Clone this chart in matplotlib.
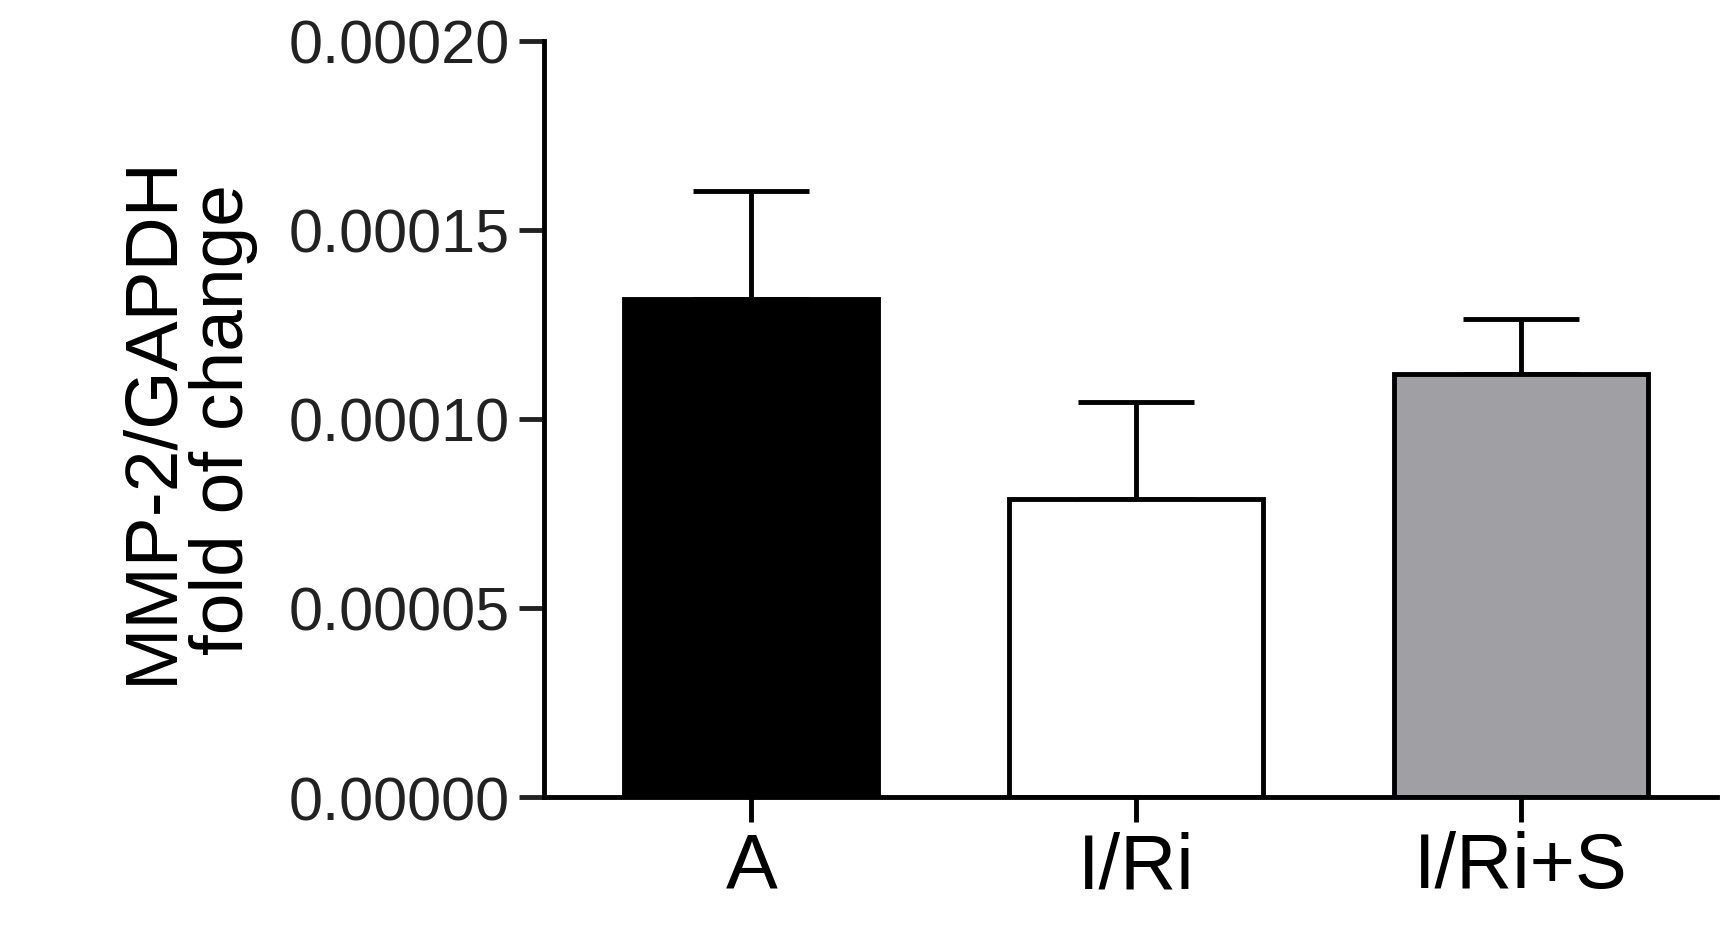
import numpy as np
import matplotlib.pyplot as plt

plt.rcParams['font.family'] = ['Liberation Sans', 'DejaVu Sans']

groups = ['A', 'I/Ri', 'I/Ri+S']
means = [0.0001318, 0.0000789, 0.0001118]
errs = [0.0000286, 0.0000257, 0.0000145]
colors = ['black', 'white', '#a0a0a4']

fig = plt.figure(figsize=(17.31, 9.28), dpi=100)
ax = fig.add_axes([0.314, 0.14, 0.678, 0.815])
x = np.arange(len(groups))
ax.bar(x, means, width=0.66, color=colors, edgecolor='black', linewidth=3.5, zorder=2)
ax.errorbar(x, means, yerr=[np.zeros(3), errs], fmt='none', ecolor='black',
            elinewidth=3.5, capsize=42, capthick=3.5, zorder=1)

ax.set_xlim(-0.54, 2.51)
ax.set_ylim(0, 0.0002)
ax.set_yticks(np.arange(0, 0.00021, 0.00005))
ax.set_yticklabels([f'{v:.5f}' for v in np.arange(0, 0.00021, 0.00005)])
ax.set_xticks(x)
ax.set_xticklabels(groups, fontsize=56)
ax.tick_params(axis='y', labelsize=44, width=3.5, length=18, pad=6, colors='#222222')
ax.tick_params(axis='x', width=3.5, length=18, pad=6)
for s in ['top', 'right']:
    ax.spines[s].set_visible(False)
for s in ['left', 'bottom']:
    ax.spines[s].set_linewidth(3.5)
ax.set_ylabel('MMP-2/GAPDH\nfold of change', fontsize=54, labelpad=22, linespacing=1.05)

fig.savefig('out.png')
